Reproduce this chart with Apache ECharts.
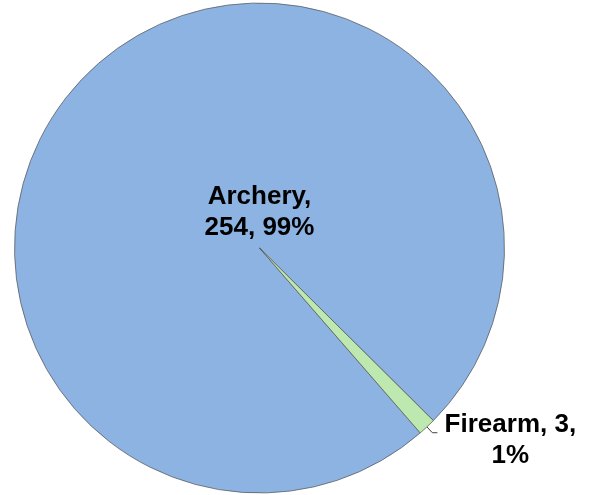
<!DOCTYPE html>
<html>
<head>
<meta charset="utf-8">
<style>
  html, body { margin: 0; padding: 0; background: #fff; }
  #chart { width: 590px; height: 495px; }
</style>
<script src="https://cdn.jsdelivr.net/npm/echarts@6/dist/echarts.min.js"></script>
</head>
<body>
<div id="chart"></div>
<script>
var categories = ['Archery', 'Firearm'];
var counts = [254, 3];
var sliceColors = ['#8db3e2', '#bde9b0'];

var chart = echarts.init(document.getElementById('chart'));

var labelFont = {
  fontFamily: 'Arial, "Liberation Sans", sans-serif',
  fontWeight: 'bold',
  fontSize: 26,
  lineHeight: 31,
  color: '#000'
};

var pieData = categories.map(function (name, i) {
  var item = {
    name: name,
    value: counts[i],
    itemStyle: { color: sliceColors[i] }
  };
  if (i === 0) {
    // big slice: label sits just above the centre
    item.label = {
      position: 'center',
      offset: [0, -36],
      formatter: '{b},\n{c}, {d}%'
    };
  } else {
    item.label = {
      position: 'outside',
      padding: [16, 0, 0, 0],
      formatter: '{a|{b}, {c},}\n{a|{d}%}',
      rich: {
        a: Object.assign({ width: 136, align: 'center' }, labelFont)
      }
    };
    item.labelLine = {
      show: true,
      length: 8,
      length2: 5,
      lineStyle: { color: '#404040', width: 1 }
    };
  }
  return item;
});

chart.setOption({
  backgroundColor: '#fff',
  animation: false,
  series: [
    {
      type: 'pie',
      center: [259.5, 248],
      radius: 245,
      startAngle: 311,
      clockwise: true,
      percentPrecision: 0,
      avoidLabelOverlap: false,
      itemStyle: {
        borderColor: '#505050',
        borderWidth: 0.7
      },
      label: Object.assign({ show: true }, labelFont),
      labelLine: { show: false },
      emphasis: { disabled: true },
      data: pieData
    }
  ]
});
</script>
</body>
</html>
